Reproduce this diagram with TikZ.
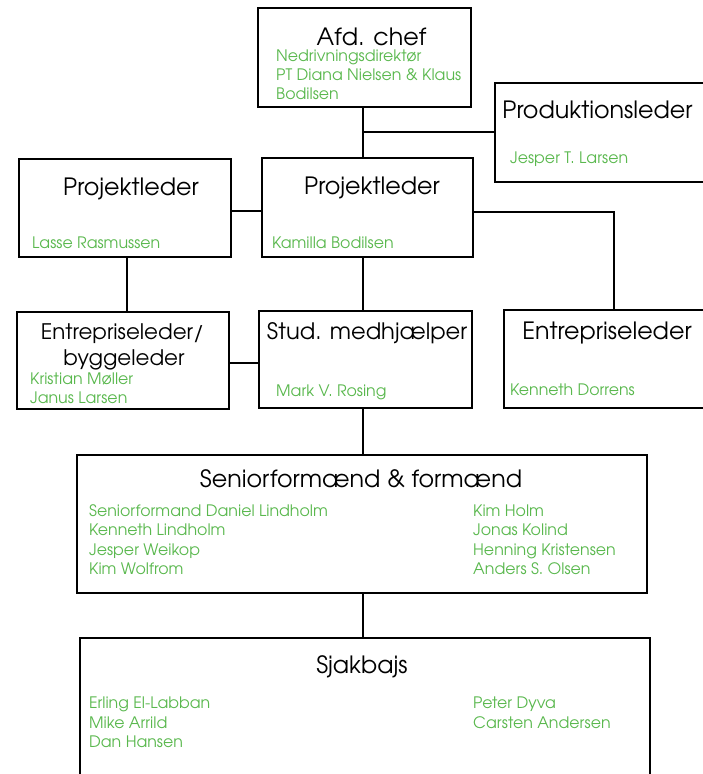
\documentclass[tikz,border=0pt]{standalone}
\usepackage{fontspec}
\setmainfont{texgyreadventor}[Extension=.otf,UprightFont=*-regular,BoldFont=*-bold]
\definecolor{grn}{RGB}{90,184,78}
\tikzset{
  box/.style={draw, line width=2.6pt, inner sep=0pt, outer sep=0pt, anchor=north west, rectangle},
  link/.style={line width=2.6pt},
  ttl/.style={font=\fontsize{23.8}{28}\selectfont, anchor=base, inner sep=0pt},
  ttls/.style={ttl, font=\fontsize{21.4}{26}\selectfont},
  nm/.style={font=\fontsize{15.8}{19}\selectfont, text=grn, anchor=base west, inner sep=0pt, align=left},
}
\begin{document}
\begin{tikzpicture}[x=1pt,y=-1pt]
\clip (0,0) rectangle (703,774);
\useasboundingbox (0,0) rectangle (703,774);
% boxes
\node[box, minimum width=213pt, minimum height=99pt] (afd) at (258,8) {};
\node[box, minimum width=240pt, minimum height=99pt] (prod) at (495,83) {};
\node[box, minimum width=212pt, minimum height=98pt] (proj1) at (19,159) {};
\node[box, minimum width=211pt, minimum height=99pt] (proj2) at (262,158) {};
\node[box, minimum width=212pt, minimum height=97pt] (ent1) at (17,312) {};
\node[box, minimum width=213pt, minimum height=97pt] (stud) at (259,311) {};
\node[box, minimum width=240pt, minimum height=98pt] (ent2) at (504,310) {};
\node[box, minimum width=570pt, minimum height=138pt] (senior) at (77,455) {};
\node[box, minimum width=570pt, minimum height=180pt] (sjak) at (80,638) {};
% junctions
\coordinate (jv) at (363,132);
\coordinate (jp1) at (127,0);
\coordinate (jr) at (614,212);
% connectors
\draw[link] (afd.south -| jv) -- (proj2.north -| jv);
\draw[link] (jv) -- (prod.west |- jv);
\draw[link] (proj1.east |- 0,211) -- (proj2.west |- 0,211);
\draw[link] (proj2.east |- jr) -- (jr) -- (ent2.north -| jr);
\draw[link] (proj1.south -| jp1) -- (ent1.north -| jp1);
\draw[link] (proj2.south -| jv) -- (stud.north -| jv);
\draw[link] (ent1.east |- 0,363) -- (stud.west |- 0,363);
\draw[link] (stud.south -| jv) -- (senior.north -| jv);
\draw[link] (senior.south -| jv) -- (sjak.north -| jv);
% titles
\node[ttl] (t1) at (371.5,45) {Afd. chef};
\node[ttl] (t2) at (597.5,118) {Produktionsleder};
\node[ttl] (t3) at (131,195) {Projektleder};
\node[ttl] (t4) at (372,194) {Projektleder};
\node[ttls] (t5) at (122.5,339) {Entrepriseleder/};
\node[ttls] (t6) at (124,365) {byggeleder};
\node[ttl, font=\fontsize{22.6}{27}\selectfont] (t7) at (367,339) {Stud. medhjælper};
\node[ttl] (t8) at (607,339) {Entrepriseleder};
\node[ttl] (t9) at (361,487) {Seniorformænd \& formænd};
\node[ttl] (t10) at (362,673) {Sjakbajs};
% names
\node[nm] (n1) at (276,61) {Nedrivningsdirektør};
\node[nm] (n2) at (276,80) {PT Diana Nielsen \& Klaus};
\node[nm] (n3) at (276,99) {Bodilsen};
\node[nm] (n4) at (510,163) {Jesper T. Larsen};
\node[nm] (n5) at (32,248) {Lasse Rasmussen};
\node[nm] (n6) at (272,248) {Kamilla Bodilsen};
\node[nm] (n7) at (30,384) {Kristian Møller};
\node[nm] (n8) at (30,403) {Janus Larsen};
\node[nm] (n9) at (276,396) {Mark V. Rosing};
\node[nm] (n10) at (510,395) {Kenneth Dorrens};
\node[nm] (s1) at (89,516) {Seniorformand Daniel Lindholm};
\node[nm] (s2) at (89,535) {Kenneth Lindholm};
\node[nm] (s3) at (89,555) {Jesper Weikop};
\node[nm] (s4) at (89,574) {Kim Wolfrom};
\node[nm] (s5) at (473,516) {Kim Holm};
\node[nm] (s6) at (473,535) {Jonas Kolind};
\node[nm] (s7) at (473,555) {Henning Kristensen};
\node[nm] (s8) at (473,574) {Anders S. Olsen};
\node[nm] (k1) at (89,708) {Erling El-Labban};
\node[nm] (k2) at (89,728) {Mike Arrild};
\node[nm] (k3) at (89,747) {Dan Hansen};
\node[nm] (k4) at (473,708) {Peter Dyva};
\node[nm] (k5) at (473,728) {Carsten Andersen};
\end{tikzpicture}
\end{document}
